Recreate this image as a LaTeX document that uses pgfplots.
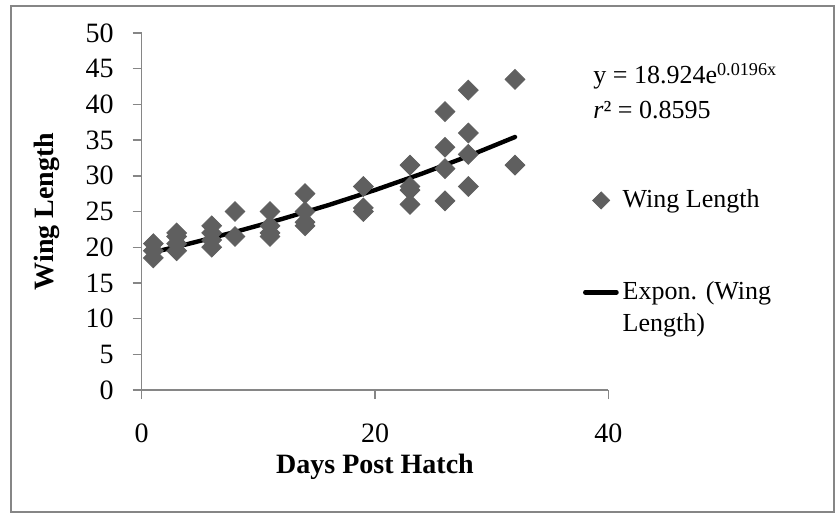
\documentclass[border=0pt]{standalone}
\usepackage{pgfplots}
\pgfplotsset{compat=1.18}
\usepackage{fontspec}
\setmainfont{Liberation Serif}
\definecolor{cmark}{HTML}{5F5F5F}
\definecolor{caxis}{HTML}{868686}
\begin{document}
\fontsize{13}{16}\selectfont
\begin{tikzpicture}
\path[use as bounding box] (0,0) rectangle (419pt,257.5pt);
\draw[caxis, line width=0.6pt] (5.5pt,1.5pt) rectangle (417pt,254.5pt);
\begin{axis}[at={(70.85pt,62.5pt)}, anchor=south west, scale only axis,
    width=233.3pt, height=178.5pt,
    xmin=0, xmax=40, ymin=0, ymax=50,
    xtick={0,20,40}, ytick={0,5,...,50},
    axis lines*=left, axis line style={caxis, line width=0.7pt},
    tick style={caxis, line width=0.7pt}, tick align=outside, major tick length=4.5pt,
    tick label style={font=\fontsize{14}{16}\selectfont},
    xticklabel style={yshift=-8pt},
    yticklabel style={xshift=-5pt},
    /pgf/number format/assume math mode=true,
    xlabel={Days Post Hatch}, ylabel={Wing Length},
    label style={font=\fontsize{14}{17}\selectfont\bfseries},
    xlabel style={at={(axis description cs:0.5,-0.215)}, anchor=center},
    ylabel style={at={(axis description cs:-0.203,0.5)}, anchor=center},
    clip=false,
    legend cell align=left,
    legend style={draw=none, fill=none, at={(0.945,0.574)}, anchor=north west,
      font=\fontsize{13}{16}\selectfont, row sep=31pt, inner sep=0pt,
      cells={align=left}},
  ]
  \addplot[only marks, mark=square*, mark size=3.5pt,
    mark options={rotate=45, fill=cmark, draw=cmark},
    legend image code/.code={\draw[mark=square*, mark size=3pt, mark options={rotate=45, fill=cmark, draw=cmark}] plot coordinates {(0.28cm,0cm)};}]
    coordinates {
    (1,18.5) (1,19.5) (1,20.5)
    (3,19.5) (3,20.5) (3,21.5) (3,22)
    (6,20) (6,21) (6,22) (6,23)
    (8,21.5) (8,25)
    (11,21.5) (11,22) (11,23) (11,25)
    (14,23) (14,23.5) (14,25) (14,27.5)
    (19,25) (19,25.5) (19,28.5)
    (23,26) (23,28) (23,28.5) (23,31.5)
    (26,26.5) (26,31) (26,34) (26,39)
    (28,28.5) (28,33) (28,36) (28,42)
    (32,31.5) (32,43.5)};
  \addlegendentry{Wing Length}
  \addplot[black, line width=2.2pt, line cap=round,
    legend image code/.code={\draw[black, line width=2.2pt, line cap=round] (0cm,8pt) -- (0.55cm,8pt);}]
    coordinates {
    (1,19.299) (4,20.467) (8,22.137) (12,23.942) (16,25.894)
    (20,28.006) (24,30.290) (28,32.760) (32,35.431)};
  \addlegendentry{Expon. (Wing\\Length)}
\end{axis}
\node[anchor=base west, inner sep=0pt, font=\fontsize{13}{16}\selectfont]
  at (296.5pt,215.5pt) {y = 18.924e\textsuperscript{0.0196x}};
\node[anchor=base west, inner sep=0pt, font=\fontsize{13}{16}\selectfont]
  at (296.5pt,198pt) {\textit{r}² = 0.8595};
\end{tikzpicture}
\end{document}
